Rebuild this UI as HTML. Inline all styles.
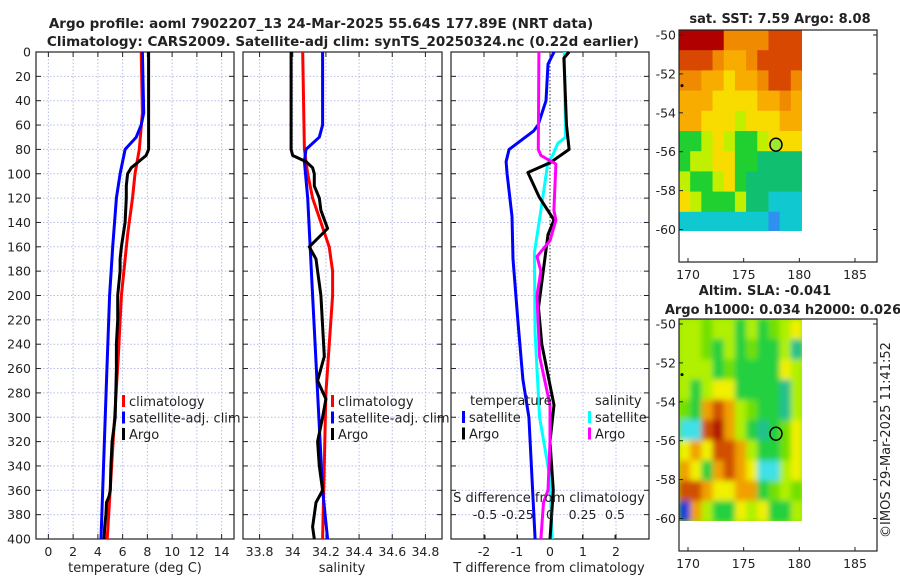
<!DOCTYPE html>
<html><head><meta charset="utf-8"><style>
body{margin:0;background:#fff}
svg text{font-family:"DejaVu Sans","Liberation Sans",sans-serif;fill:#222}
</style></head><body>
<svg id="s" width="900" height="580" xmlns="http://www.w3.org/2000/svg">
<defs>
<filter id="bl" x="-10%" y="-10%" width="120%" height="120%"><feGaussianBlur stdDeviation="3"/></filter>
<clipPath id="c1"><rect x="679" y="30" width="123" height="201"/></clipPath>
<clipPath id="c2"><rect x="679" y="319" width="123" height="202"/></clipPath>
</defs>
</svg>
<script>
// ---- data ----
const depthTicks=[0,20,40,60,80,100,120,140,160,180,200,220,240,260,280,300,320,340,360,380,400];
const tempTicks=[0,2,4,6,8,10,12,14];
const salTicks=[33.8,34,34.2,34.4,34.6,34.8];
const salTickLabels=["33.8","34","34.2","34.4","34.6","34.8"];
const tdTicks=[-2,-1,0,1,2];
const sdTicks=[-0.5,-0.25,0,0.25,0.5];
const sdTickLabels=["-0.5","-0.25","0","0.25","0.5"];

const tArgoDepth=[0,10,20,40,60,80,85,90,95,100,110,120,140,160,170,180,200,220,240,260,280,300,320,340,360,365,370,380,390,400];
const tArgo=[8.1,8.1,8.1,8.1,8.1,8.1,7.9,7.3,6.7,6.4,6.3,6.3,6.2,5.9,5.8,5.8,5.6,5.6,5.5,5.5,5.45,5.4,5.15,5.05,5.0,4.9,4.7,4.65,4.55,4.5];
const tClimDepth=[0,50,80,100,120,150,180,200,250,300,350,400];
const tClim=[7.5,7.6,7.35,7.0,6.8,6.4,6.1,5.9,5.65,5.35,5.05,4.75];
const tSatDepth=[0,50,60,70,80,100,120,160,200,270,400];
const tSat=[7.6,7.7,7.5,7.1,6.2,5.8,5.5,5.2,4.95,4.7,4.25];

const sArgoDepth=[0,20,40,60,80,85,90,95,100,110,120,130,145,160,170,180,200,250,270,285,300,320,340,360,370,390,400];
const sArgo=[33.99,33.99,33.99,33.99,33.99,34.0,34.08,34.12,34.13,34.13,34.16,34.17,34.21,34.1,34.14,34.15,34.17,34.19,34.15,34.2,34.18,34.15,34.16,34.18,34.14,34.12,34.13];
const sClimDepth=[0,80,100,120,140,160,180,200,280,400];
const sClim=[34.06,34.07,34.09,34.12,34.17,34.22,34.24,34.24,34.2,34.18];
const sSatDepth=[0,60,70,80,90,120,200,280,360,400];
const sSat=[34.18,34.18,34.16,34.08,34.07,34.09,34.12,34.15,34.18,34.21];

const dTSatDepth=[0,10,40,60,65,80,90,100,135,170,222,269,300,400];
const dTSat=[0.12,-0.06,-0.12,-0.36,-0.5,-1.24,-1.33,-1.3,-1.15,-1.12,-0.97,-0.82,-0.64,-0.45];
const dTArgoDepth=[0,5,60,80,91,99,119,138,150,179,210,240,290,320,360,400];
const dTArgo=[0.58,0.42,0.5,0.58,0,-0.67,-0.33,0.12,-0.06,-0.2,-0.35,-0.25,0.12,0,0.1,0];
const dSSatDepth=[0,70,75,85,90,130,165,230,300,350,400];
const dSSat=[0.11,0.12,0.06,0.02,-0.015,-0.07,-0.12,-0.115,-0.08,0,0.015];
const dSArgoDepth=[0,80,85,92,130,138,155,168,180,200,250,290,320,360,370,400];
const dSArgo=[-0.085,-0.09,-0.07,0.045,0.03,0.045,0,-0.1,-0.07,-0.1,-0.08,0,0,-0.015,-0.05,-0.07];

const lonTicks=[170,175,180,185];
const latTicks=[-50,-52,-54,-56,-58,-60];
const argoLon=177.9, argoLat=-55.64;
const sstRows=["RRRRoooorrr","rrroOOorrrr","ooOOyOOorro","OOOyyyyOOoO","OOyyyYyyyOO","ggYyYggYyyy","gYYyyggGGGG","YggYygGGGGG","yYgggYGGccc","ccccccccbcc"];
const slaRows=["YYlYYgYglYy","YYlgYglggYG","YYYglggggyY","YgYyyggggGY","lgoroYlggGY","ccrRoYgGgly","yoyrroYggly","oygoroyccYy","rroyyooglYl","boYggyYyggY"];
// ---- drawing ----
const NS="http://www.w3.org/2000/svg",S=document.getElementById('s');
function el(t,a,p){const e=document.createElementNS(NS,t);for(const k in a)e.setAttribute(k,a[k]);(p||S).appendChild(e);return e;}
function txt(x,y,s,a,p){const e=el('text',Object.assign({x:x,y:y,'font-size':12.5},a||{}),p);e.textContent=s;return e;}
const Y0=52,Y1=539;
const yD=d=>Y0+(d/400)*(Y1-Y0);
function lin(d0,d1,p0,p1){return v=>p0+(v-d0)/(d1-d0)*(p1-p0);}
function panel(name,x0,x1,xs,ticks,labels,showY){
  const g=el('g',{});
  
  
  depthTicks.forEach(d=>{el('line',{x1:x0,x2:x1,y1:yD(d),y2:yD(d),stroke:'#b8bce8','stroke-width':1,'stroke-dasharray':'1.5,2'},g);
    el('line',{x1:x0,x2:x0+5,y1:yD(d),y2:yD(d),stroke:'#222'},g);el('line',{x1:x1-5,x2:x1,y1:yD(d),y2:yD(d),stroke:'#222'},g);
    if(showY){const t=txt(31,yD(d)+4.5,String(d),{'text-anchor':'end'},g);}});
  ticks.forEach((v,i)=>{const x=xs(v);el('line',{x1:x,x2:x,y1:Y0,y2:Y1,stroke:'#b8bce8','stroke-dasharray':'1.5,2'},g);
    el('line',{x1:x,x2:x,y1:Y1,y2:Y1-5,stroke:'#222'},g);el('line',{x1:x,x2:x,y1:Y0,y2:Y0+5,stroke:'#222'},g);
    if(labels){const t=txt(x,556,labels[i],{'text-anchor':'middle'},g);}});
  el('rect',{x:x0,y:Y0,width:x1-x0,height:Y1-Y0,fill:'none',stroke:'#222','stroke-width':1.2},g);
  return g;
}
function line(name,xs,vals,deps,col,w){
  const pts=vals.map((v,i)=>xs(v).toFixed(1)+','+yD(deps[i]).toFixed(1)).join(' ');
  const p=el('polyline',{points:pts,fill:'none',stroke:col,'stroke-width':w||3,'stroke-linejoin':'round'});
  
  
}
function legend(x,y,items){
  items.forEach((it,i)=>{el('rect',{x:x,y:y+i*16.5-11,width:3,height:12,fill:it[1]});
    const t=txt(x+7,y+i*16.5,it[0],{'font-size':13});});
}
// panel 1 temperature
const xT=lin(-1,15,36,234);
panel('temperature-panel',36,234,xT,tempTicks,tempTicks.map(String),true);
line('temp-climatology-line',xT,tClim,tClimDepth,'#ff0000');
line('temp-satellite-line',xT,tSat,tSatDepth,'#0000ff');
line('temp-argo-line',xT,tArgo,tArgoDepth,'#000');
legend(122,406,[['climatology','#f00'],['satellite-adj. clim','#00f'],['Argo','#000']]);
txt(135,572,'temperature (deg C)',{'text-anchor':'middle','font-size':13});
// panel 2 salinity
const xS=lin(33.7,34.9,243,442);
panel('salinity-panel',243,442,xS,salTicks,salTickLabels,false);
line('sal-climatology-line',xS,sClim,sClimDepth,'#ff0000');
line('sal-satellite-line',xS,sSat,sSatDepth,'#0000ff');
line('sal-argo-line',xS,sArgo,sArgoDepth,'#000');
legend(331,406,[['climatology','#f00'],['satellite-adj. clim','#00f'],['Argo','#000']]);
txt(342,572,'salinity',{'text-anchor':'middle','font-size':13});
// panel 3 differences
const xTd=lin(-3,3,451,649), xSd=lin(-0.7615,0.7615,451,649);
panel('difference-panel',451,649,xTd,tdTicks,tdTicks.map(String),false);
el('line',{x1:xTd(0),x2:xTd(0),y1:Y0,y2:Y1,stroke:'#333','stroke-dasharray':'1.5,2'});
line('tdiff-satellite-line',xTd,dTSat,dTSatDepth,'#0000ff');
line('sdiff-satellite-line',xSd,dSSat,dSSatDepth,'#00ffff');
line('tdiff-argo-line',xTd,dTArgo,dTArgoDepth,'#000');
line('sdiff-argo-line',xSd,dSArgo,dSArgoDepth,'#ff00ff');
txt(470,405,'temperature',{'font-size':13});txt(595,405,'salinity',{'font-size':13});
legend(462,422,[['satellite','#00f'],['Argo','#000']]);
legend(588,422,[['satellite','#0ff'],['Argo','#f0f']]);
sdTicks.forEach((v,i)=>{el('line',{x1:xSd(v),x2:xSd(v),y1:Y1,y2:Y1-4,stroke:'#222'});txt(xSd(v),519,sdTickLabels[i],{'text-anchor':'middle'});});
txt(549,502,'S difference from climatology',{'text-anchor':'middle','font-size':13});
txt(549,572,'T difference from climatology',{'text-anchor':'middle','font-size':13});
// titles
txt(321,28,'Argo profile: aoml 7902207_13 24-Mar-2025 55.64S 177.89E (NRT data)',{'text-anchor':'middle','font-weight':'bold','font-size':13.5});
txt(343,46,'Climatology: CARS2009. Satellite-adj clim: synTS_20250324.nc (0.22d earlier)',{'text-anchor':'middle','font-weight':'bold','font-size':13.5});
// maps
const sstCol={R:'#b00000',r:'#d84800',o:'#f08a00',O:'#f8ac00',y:'#f8dc00',Y:'#c0f000',g:'#20d030',G:'#10c070',c:'#10c8d0',b:'#3090f0'};
const slaCol={Y:'#b0f000',l:'#70e000',g:'#20d040',G:'#20c090',y:'#f0f000',o:'#f0a000',r:'#d05000',R:'#b01800',c:'#40e0e8',b:'#1040e0'};
function map(name,top,bottom,rows,cols,blur){
  const g=el('g',{});
  
  
  const lat0=top+5, lat60=lat0+194.5, xL=lin(170,185,688,855), yL=lin(-50,-60,lat0,lat60);
  const clip=el('g',{'clip-path':blur?'url(#c2)':'url(#c1)'},g);
  if(blur)el('rect',{x:679,y:top,width:123,height:202,fill:'#90e800'},clip);
  const cg=el('g',blur?{filter:'url(#bl)'}:{},clip);
  const rh=202/rows.length, cw=123/11;
  rows.forEach((r,j)=>{for(let i=0;i<r.length;i++){
    el('rect',{x:679+i*cw,y:top+j*rh,width:cw+0.5,height:rh+0.5,fill:cols[r[i]]},cg);}});
  el('rect',{x:679,y:top,width:198,height:bottom-top,fill:'none',stroke:'#222','stroke-width':1.2},g);
  lonTicks.forEach(v=>{el('line',{x1:xL(v),x2:xL(v),y1:bottom,y2:bottom-4,stroke:'#222'},g);txt(xL(v),bottom+17,String(v),{'text-anchor':'middle'},g);});
  latTicks.forEach(v=>{el('line',{x1:679,x2:683,y1:yL(v),y2:yL(v),stroke:'#222'},g);el('line',{x1:873,x2:877,y1:yL(v),y2:yL(v),stroke:'#222'},g);
    txt(676,yL(v)+4.5,String(v),{'text-anchor':'end'},g);});
  const c=el('ellipse',{cx:xL(argoLon),cy:yL(argoLat),rx:6,ry:6.5,fill:blur?'none':'#a0e830',stroke:'#000','stroke-width':1.5},g);
  
  
  el('circle',{cx:682,cy:yL(-52.6),r:1.5,fill:'#000'},g);
}
map('sst-map',30,262,sstRows,sstCol,false);
txt(780,23,'sat. SST: 7.59 Argo: 8.08',{'text-anchor':'middle','font-weight':'bold','font-size':13});
map('sla-map',319,551,slaRows,slaCol,true);
txt(765,295,'Altim. SLA: -0.041',{'text-anchor':'middle','font-weight':'bold','font-size':13});
txt(783,314,'Argo h1000: 0.034 h2000: 0.026',{'text-anchor':'middle','font-weight':'bold','font-size':13});
const cp=txt(0,0,'©IMOS 29-Mar-2025 11:41:52',{'text-anchor':'middle','font-size':13,transform:'translate(890,440) rotate(-90)'});


</script>
</body></html>
